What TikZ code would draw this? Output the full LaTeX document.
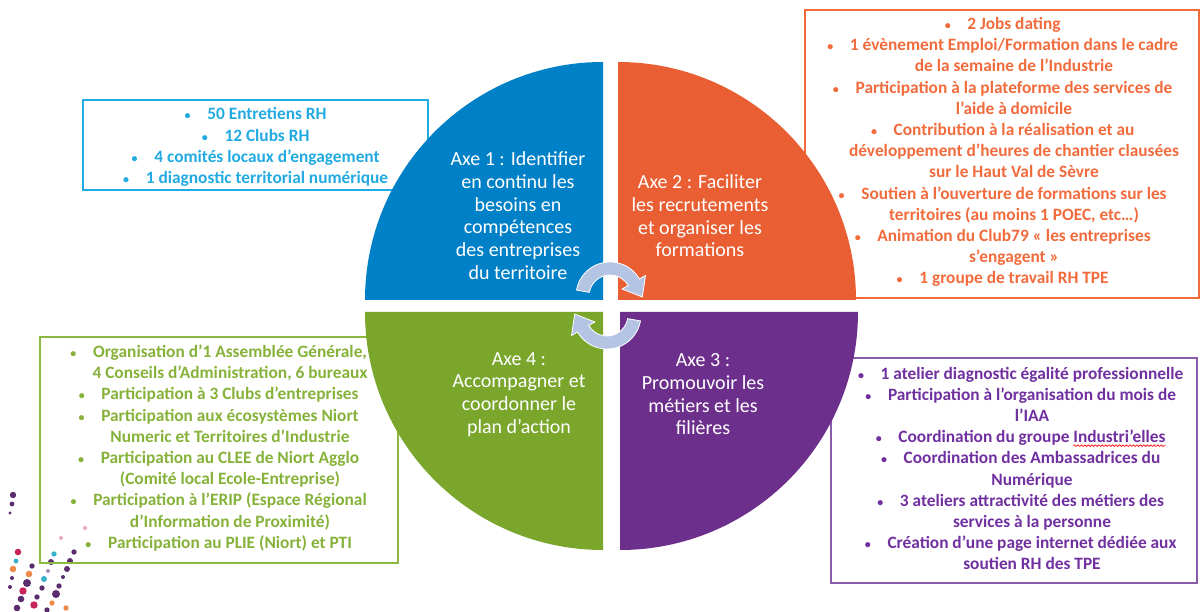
\documentclass[tikz,border=0pt]{standalone}
\usepackage{fontspec}
\setmainfont{Carlito}
\usetikzlibrary{calc,decorations.pathmorphing}
\definecolor{qblue}{HTML}{0080C6}
\definecolor{qorange}{HTML}{E95F33}
\definecolor{qgreen}{HTML}{7AA62C}
\definecolor{qpurple}{HTML}{6D2F8C}
\definecolor{tblue}{HTML}{22AAE2}
\definecolor{torange}{HTML}{F26B3C}
\definecolor{tgreen}{HTML}{86B23A}
\definecolor{bgreen}{HTML}{8DB840}
\definecolor{tpurple}{HTML}{7030A0}
\definecolor{bpurple}{HTML}{8A5BA8}
\definecolor{arrowc}{HTML}{B4C4E3}
\definecolor{dP}{HTML}{5B2D6E}
\definecolor{dO}{HTML}{F08A4B}
\definecolor{dM}{HTML}{C8245A}
\definecolor{dC}{HTML}{3AAFCB}
\definecolor{dK}{HTML}{E8A8C0}
\definecolor{dL}{HTML}{A58AB8}
\newcommand\bul{\llap{{\fontsize{9}{9}\selectfont •}\hspace{12.5pt}}}
\newsavebox\wavbox
\newcommand\wavyred[1]{\sbox\wavbox{#1}\rlap{\tikz[overlay,baseline=0pt]\draw[red,line width=0.5pt,decorate,decoration={snake,amplitude=0.6pt,segment length=2.6pt}] (0pt,-2.2pt) -- (\wd\wavbox,-2.2pt);}\usebox\wavbox}
\tikzset{
  boxtext/.style={align=center, font=\fontsize{13}{15.9}\selectfont\bfseries, inner sep=0pt},
  quadtext/.style={align=center, text=white, font=\fontsize{15}{17}\selectfont, inner sep=0pt},
  infobox/.style={line width=1.1pt},
  cyc/.style={fill=arrowc, draw=white, line width=0.6pt}
}
\begin{document}
\begin{tikzpicture}[x=0.75pt,y=0.75pt]
\useasboundingbox (0,0) rectangle (1200,611);
\fill[white] (0,0) rectangle (1200,611);

% decorative dots
\foreach \dx/\dy/\dc/\dr in {13/495/dP/3.2,12/504/dP/2.4,10/513/dP/1.6,85/528/dK/2,61/538/dK/2,
  54/554/dC/2.7,74/552/dP/2.7,18/552/dM/3.3,16/561/dC/2.4,51/562/dP/3,70/561/dP/3,32/566/dP/2.7,
  13/569/dO/3.3,29/574/dO/3.3,67/569/dP/3,48/571/dL/2,12/578/dP/2,27/583/dP/4,44/579/dC/3,
  63/577/dP/2,10/587/dP/2,23/591/dM/3.7,42/588/dP/2.7,59/586/dP/2.7,21/599/dP/3.3,37/597/dP/2.7,
  56/594/dP/4,34/605/dM/3.7,52/603/dO/2.7,17/608/dP/3.3,47/610/dP/2.7,66/608/dO/2.7}
  {\fill[\dc] (\dx,{611-\dy}) circle (\dr);}

% info boxes
\draw[infobox, tblue] (83,511) rectangle (428,421);
\draw[infobox, torange] (805,601) rectangle (1199,313);
\draw[infobox, bgreen] (40,274) rectangle (398,48);
\draw[infobox, bpurple] (831,253) rectangle (1197,28);

\node[boxtext, text=tblue] (tb) at (267,464) {\bul 50 Entretiens RH\\
\bul 12 Clubs RH\\
\bul 4 comités locaux d’engagement\\
\bul 1 diagnostic territorial numérique};

\node[boxtext, text=torange] (to) at (1014,459) {\bul 2 Jobs dating\\
\bul 1 évènement Emploi/Formation dans le cadre\\
de la semaine de l’Industrie\\
\bul Participation à la plateforme des services de\\
l’aide à domicile\\
\bul Contribution à la réalisation et au\\
développement d’heures de chantier clausées\\
sur le Haut Val de Sèvre\\
\bul Soutien à l’ouverture de formations sur les\\
territoires (au moins 1 POEC, etc…)\\
\bul Animation du Club79 « les entreprises\\
s’engagent »\\
\bul 1 groupe de travail RH TPE};

\node[boxtext, text=tgreen] (tg) at (230,163) {\bul Organisation d’1 Assemblée Générale,\\
4 Conseils d’Administration, 6 bureaux\hspace*{16pt}\\
\bul Participation à 3 Clubs d’entreprises\\
\bul Participation aux écosystèmes Niort\\
Numeric et Territoires d’Industrie\\
\bul Participation au CLEE de Niort Agglo\\
(Comité local Ecole-Entreprise)\\
\bul Participation à l’ERIP (Espace Régional\\
d’Information de Proximité)\\
\bul Participation au PLIE (Niort) et PTI};

\node[boxtext, text=tpurple] (tp) at (1032,142.5) {\bul 1 atelier diagnostic égalité professionnelle\\
\bul Participation à l’organisation du mois de\\
l’IAA\\
\bul Coordination du groupe \wavyred{Industri’elles}\\
\bul Coordination des Ambassadrices du\\
Numérique\\
\bul 3 ateliers attractivité des métiers des\\
services à la personne\\
\bul Création d’une page internet dédiée aux\\
soutien RH des TPE};

% quadrants
\fill[qblue] (603,311) -- ++(-238,0) arc[start angle=180,end angle=90,radius=238] -- cycle;
\fill[qorange] (618,311) -- ++(0,238) arc[start angle=90,end angle=0,radius=238] -- cycle;
\fill[qgreen] (603,299) -- ++(-238,0) arc[start angle=180,end angle=270,radius=238] -- cycle;
\fill[qpurple] (620,299) -- ++(0,-238) arc[start angle=270,end angle=360,radius=238] -- cycle;

\node[quadtext] (q1) at (518,395.5) {Axe 1 : Identifier\\ en continu les\\ besoins en\\ compétences\\ des entreprises\\ du territoire};
\node[quadtext] (q2) at (700,395) {Axe 2 : Faciliter\\ les recrutements\\ et organiser les\\ formations};
\node[quadtext] (q4) at (519,216.5) {Axe 4 :\\ Accompagner et\\ coordonner le\\ plan d’action};
\node[quadtext] (q3) at (703,216.5) {Axe 3 :\\ Promouvoir les\\ métiers et les\\ filières};

% cycle arrows
\coordinate (c1) at (610,315);
\coordinate (c2) at (607,296);
\filldraw[cyc] ($(c1)+(170:34)$) arc[start angle=170,end angle=30,radius=34]
  -- ($(c1)+(30:41)$) -- ($(c1)+(30:27.5)+(-60:17)$) -- ($(c1)+(30:14)$) -- ($(c1)+(30:21)$)
  arc[start angle=30,end angle=170,radius=21] -- cycle;
\filldraw[cyc] ($(c2)+(-10:34)$) arc[start angle=-10,end angle=-150,radius=34]
  -- ($(c2)+(-150:41)$) -- ($(c2)+(-150:27.5)+(120:17)$) -- ($(c2)+(-150:14)$) -- ($(c2)+(-150:21)$)
  arc[start angle=-150,end angle=-10,radius=21] -- cycle;
\end{tikzpicture}
\end{document}
